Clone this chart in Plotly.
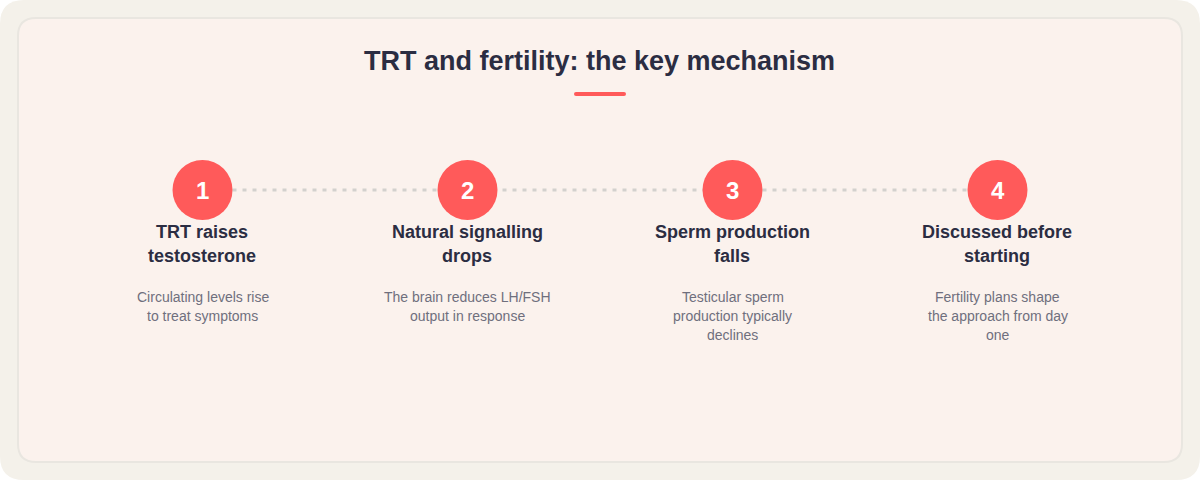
"""plot.py - TRT and fertility: four step mechanism diagram."""
import plotly.graph_objects as go

TITLE = "TRT and fertility: the key mechanism"
steps = [1, 2, 3, 4]
headings = [
    ["TRT raises", "testosterone"],
    ["Natural signalling", "drops"],
    ["Sperm production", "falls"],
    ["Discussed before", "starting"],
]
details = [
    ["Circulating levels rise", "to treat symptoms"],
    ["The brain reduces LH/FSH", "output in response"],
    ["Testicular sperm", "production typically", "declines"],
    ["Fertility plans shape", "the approach from day", "one"],
]

W, H = 1200, 480
FIRST_X, STEP_GAP = 202.5, 265
ROW_Y = 190
FONT = "Liberation Sans"
CORAL = "#ff5a5a"
INK = "#2b2d42"
MUTED = "#6f6f7d"


def rounded(x0, y0, x1, y1, r):
    return (f"M{x0 + r},{y0} L{x1 - r},{y0} Q{x1},{y0} {x1},{y0 + r} "
            f"L{x1},{y1 - r} Q{x1},{y1} {x1 - r},{y1} "
            f"L{x0 + r},{y1} Q{x0},{y1} {x0},{y1 - r} "
            f"L{x0},{y0 + r} Q{x0},{y0} {x0 + r},{y0} Z")


def px_shape(path, fill, line=None, width=0):
    return dict(type="path", xref="x2", yref="y", path=path, fillcolor=fill,
                line=dict(color=line, width=width), layer="below")


fig = go.Figure()

# dotted connector, drawn under the circles
fig.add_trace(go.Scatter(
    x=steps, y=[ROW_Y] * len(steps), mode="lines", hoverinfo="skip",
    line=dict(color="#d3d1ce", width=3, dash="4px,6px"),
))
fig.add_trace(go.Scatter(
    x=steps, y=[ROW_Y] * len(steps), mode="markers",
    marker=dict(size=60, color=CORAL, line=dict(width=0)),
    hoverinfo="skip",
))

# invisible pixel axis so the background shapes can be placed in px
fig.add_trace(go.Scatter(x=[0, W], y=[0, H], xaxis="x2", mode="none", hoverinfo="skip"))

annotations = [dict(
    x=0.5, y=61, xref="paper", yref="y", text=f"<b>{TITLE}</b>", showarrow=False, xshift=-0.5,
    font=dict(family=FONT, size=27, color=INK), xanchor="center", yanchor="middle",
)]
for step, head, body in zip(steps, headings, details):
    annotations.append(dict(
        x=step, y=ROW_Y, text=f"<b>{step}</b>", showarrow=False,
        font=dict(family=FONT, size=24, color="white"), xanchor="center", yanchor="middle",
    ))
    for i, line in enumerate(head):
        annotations.append(dict(
            x=step, y=232 + 24 * i, text=f"<b>{line}</b>", showarrow=False, xshift=-0.5,
            font=dict(family=FONT, size=18, color=INK), xanchor="center", yanchor="middle",
        ))
    for i, line in enumerate(body):
        annotations.append(dict(
            x=step, y=297 + 19 * i, text=line, showarrow=False,
            font=dict(family=FONT, size=14, color=MUTED), xanchor="center", yanchor="middle",
        ))

fig.update_layout(
    width=W, height=H, margin=dict(l=0, r=0, t=0, b=0),
    paper_bgcolor="white", plot_bgcolor="rgba(0,0,0,0)", showlegend=False,
    xaxis=dict(range=[1 - FIRST_X / STEP_GAP, 1 + (W - FIRST_X) / STEP_GAP], visible=False, fixedrange=True),
    xaxis2=dict(range=[0, W], visible=False, overlaying="x", fixedrange=True),
    yaxis=dict(range=[H, 0], visible=False, fixedrange=True),
    shapes=[
        px_shape(rounded(0, 0, 1200, 480, 24), "#f4f1ea"),
        px_shape(rounded(18, 18, 1182, 462, 18), "#fbf2ed", "#e9e6e0", 2),
        px_shape(rounded(574, 92, 626, 96, 2), CORAL),
    ],
    annotations=annotations,
)

# the page's default body margin would shift the chart by 8px
fig.write_html("out.html", config={"displayModeBar": False},
               post_script="document.body.style.margin='0';")
